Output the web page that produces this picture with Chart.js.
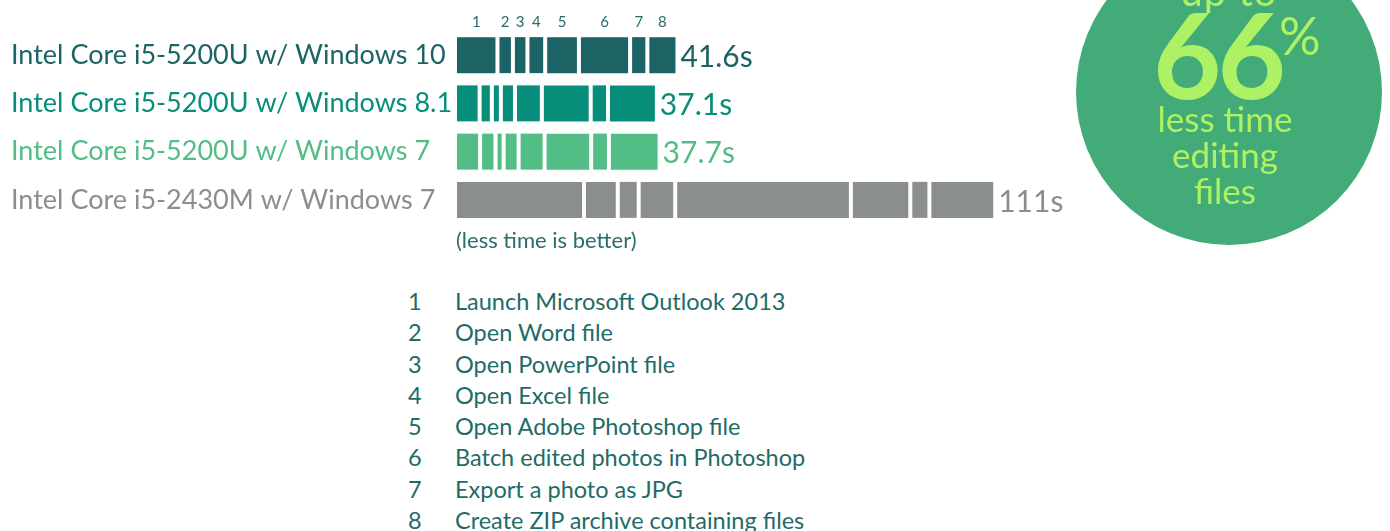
<!DOCTYPE html>
<html>
<head>
<meta charset="utf-8">
<script src="https://cdn.jsdelivr.net/npm/chart.js@4/dist/chart.umd.min.js"></script>
<style>
    body { margin: 0; width: 1390px; height: 531px; overflow: hidden; background: #fff; font-family: Lato, 'Noto Sans', sans-serif; position: relative; }
    #chartBox { position: absolute; left: 0; top: 0; width: 1100px; height: 260px; }
    .note { position: absolute; left: 456px; top: 226px; font-size: 22px; color: #2a6e6c; }
    .steps { position: absolute; left: 0; top: 286px; font-size: 23.5px; color: #1f6b68; }
    .steps div { position: relative; height: 31.3px; line-height: 31.3px; }
    .steps .num { position: absolute; left: 408px; }
    .steps .txt { position: absolute; left: 455px; white-space: nowrap; }
    .badge { position: absolute; left: 1076px; top: -61px; width: 306px; height: 306px; border-radius: 50%; background: #43ab77; color: #adf264; text-align: center; line-height: 1; }
    .badge .upto { position: absolute; left: 0; right: 0; top: 32px; font-size: 40px; letter-spacing: 1px; }
    .badge .big { position: absolute; left: 77px; top: 56px; font-size: 118px; font-weight: bold; letter-spacing: -4px; }
    .badge .pct { position: absolute; left: 203px; top: 70px; font-size: 52px; }
    .badge .sub { position: absolute; left: -8px; right: 0; top: 161px; font-size: 35px; line-height: 36px; }
</style>
</head>
<body>
<div id="chartBox"><canvas id="timeChart" width="1100" height="260"></canvas></div>
<div class="note">(less time is better)</div>
<div class="steps" id="steps"></div>
<div class="badge">
    <div class="upto">up to</div>
    <div class="big">66</div>
    <div class="pct">%</div>
    <div class="sub">less time<br>editing<br>files</div>
</div>
<script>
// Systems (rows)
const systems = [
    'Intel Core i5-5200U w/ Windows 10',
    'Intel Core i5-5200U w/ Windows 8.1',
    'Intel Core i5-5200U w/ Windows 7',
    'Intel Core i5-2430M w/ Windows 7'
];
const totals = ['41.6s', '37.1s', '37.7s', '111s'];
const rowColors = ['#1c6366', '#078e7b', '#52bd84', '#8b8e8e'];

// Task names (segments)
const tasks = [
    'Launch Microsoft Outlook 2013',
    'Open Word file',
    'Open PowerPoint file',
    'Open Excel file',
    'Open Adobe Photoshop file',
    'Batch edited photos in Photoshop',
    'Export a photo as JPG',
    'Create ZIP archive containing files'
];

// Seconds per task, one array per system
const win10 = [8.4, 2.5, 2.3, 3.0, 6.5, 10.3, 2.9, 5.7];
const win81 = [4.5, 1.8, 1.1, 2.2, 5.0, 9.8, 2.9, 9.8];
const win7 = [4.6, 2.5, 0.9, 2.4, 4.8, 9.3, 3.0, 10.2];
const oldWin7 = [27.3, 6.5, 3.7, 7.1, 37.5, 12.1, 3.3, 13.5];

const GAP = 4; // white gap between task segments

// build the list of tasks under the chart
const stepsEl = document.getElementById('steps');
tasks.forEach((t, i) => {
    const row = document.createElement('div');
    row.innerHTML = `<span class="num">${i + 1}</span><span class="txt">${t}</span>`;
    stepsEl.appendChild(row);
});

const datasets = tasks.map((t, i) => ({
    label: t,
    data: [win10[i], win81[i], win7[i], oldWin7[i]],
    backgroundColor: rowColors,
    borderWidth: 0,
    barThickness: 36,
    inflateAmount: 0
}));

// push each segment right so the gaps add to the bar length
const gapPlugin = {
    id: 'segmentGaps',
    afterDatasetsUpdate(chart) {
        chart.data.datasets.forEach((ds, i) => {
            chart.getDatasetMeta(i).data.forEach(bar => {
                bar.x += i * GAP;
                bar.base += i * GAP;
            });
        });
    }
};

// totals at bar ends and task numbers over the first bar
const labelPlugin = {
    id: 'barLabels',
    afterDatasetsDraw(chart) {
        const ctx = chart.ctx;
        const last = chart.getDatasetMeta(tasks.length - 1).data;
        ctx.save();
        ctx.textBaseline = 'middle';
        ctx.textAlign = 'left';
        ctx.font = '30px Lato, sans-serif';
        last.forEach((bar, r) => {
            ctx.fillStyle = rowColors[r];
            ctx.fillText(totals[r], bar.x + 5, bar.y + 2);
        });
        ctx.textAlign = 'center';
        ctx.font = '15px Lato, sans-serif';
        ctx.fillStyle = '#2a6a6a';
        tasks.forEach((t, i) => {
            const bar = chart.getDatasetMeta(i).data[0];
            ctx.fillText(String(i + 1), (bar.x + bar.base) / 2, bar.y - bar.height / 2 - 15);
        });
        ctx.restore();
    }
};

new Chart(document.getElementById('timeChart'), {
    type: 'bar',
    data: { labels: systems, datasets: datasets },
    options: {
        indexAxis: 'y',
        responsive: false,
        animation: false,
        layout: { padding: { left: 11, right: 2, top: 31, bottom: 36 } },
        scales: {
            x: { stacked: true, min: 0, max: 140, display: false },
            y: {
                stacked: true,
                grid: { display: false },
                border: { display: false },
                afterFit: scale => { scale.width = 446; },
                ticks: {
                    crossAlign: 'far',
                    padding: 0,
                    font: { family: 'Lato', size: 27 },
                    color: c => rowColors[c.index]
                }
            }
        },
        plugins: {
            legend: { display: false },
            tooltip: { enabled: false }
        }
    },
    plugins: [gapPlugin, labelPlugin]
});
</script>
</body>
</html>
